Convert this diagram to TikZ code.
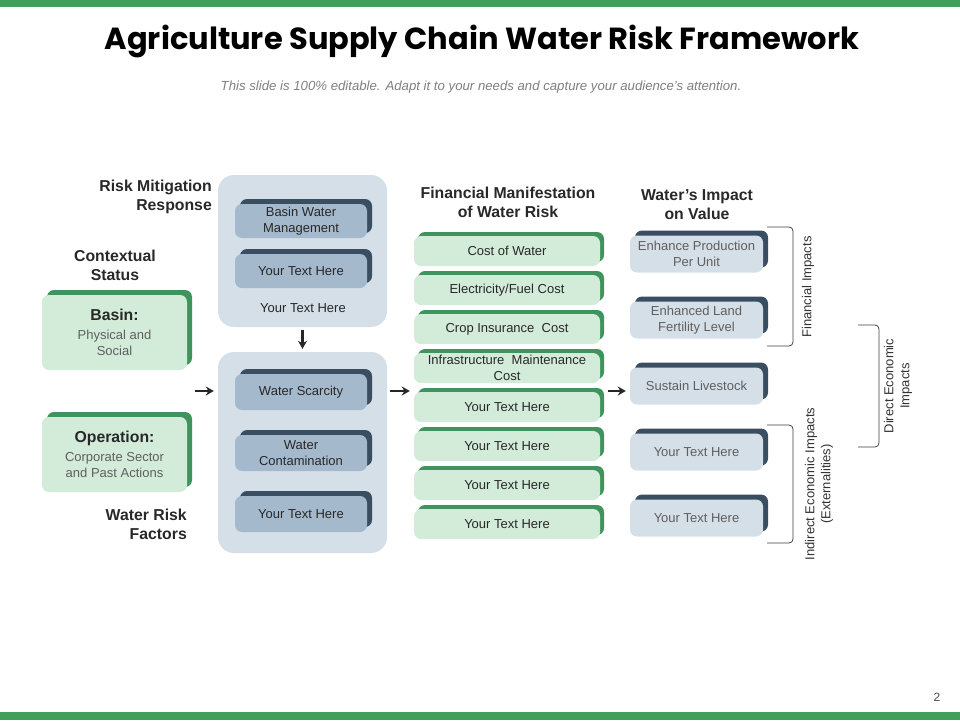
\documentclass[tikz,border=0pt]{standalone}
\usepackage{fontspec}
\setmainfont{Liberation Sans}
\newfontfamily\titlefont{Poppins}
\usepackage{xcolor}
\usetikzlibrary{arrows.meta}

\definecolor{barGreen}{RGB}{64,160,90}
\definecolor{shGreen}{RGB}{62,148,92}
\definecolor{lightGreen}{RGB}{211,236,218}
\definecolor{paleSlate}{RGB}{213,223,232}
\definecolor{midSlate}{RGB}{165,185,205}
\definecolor{darkSlate}{RGB}{58,78,98}
\definecolor{txtGray}{RGB}{95,95,95}
\definecolor{txtDark}{RGB}{40,40,40}

\begin{document}
\begin{tikzpicture}[
  x=1pt, y=-1pt, >=Stealth,
  gbox/.style={rounded corners=7pt, fill=lightGreen, align=center, inner sep=0pt,
    preaction={fill=shGreen, transform canvas={xshift=#1, yshift=#1}},
    font=\fontsize{13}{16}\selectfont, text=txtDark},
  gbox/.default=4pt,
  sbox/.style={rounded corners=7pt, fill=#1, align=center, inner sep=0pt,
    preaction={fill=darkSlate, transform canvas={xshift=5pt, yshift=5pt}},
    font=\fontsize{13}{16}\selectfont},
  cont/.style={rounded corners=16pt, fill=paleSlate, minimum width=169pt},
  hd/.style={font=\fontsize{15.8}{19}\selectfont\bfseries, text=txtDark, align=#1, inner sep=0pt},
  hd/.default=center,
  arr/.style={-{Stealth[length=8pt,width=9pt]}, line width=2.8pt, draw=black!85},
  brk/.style={rounded corners=4pt, draw=black!75, line width=0.8pt},
  side/.style={rotate=90, align=center, font=\fontsize{13}{16}\selectfont, text=black!80},
]
\useasboundingbox (0,0) rectangle (960,720);
\fill[white] (0,0) rectangle (960,720);

%--- BARS AND TITLE ---
\fill[barGreen] (0,0) rectangle (960,7);
\fill[barGreen] (0,712) rectangle (960,720);
\node (title) at (482,41) {\titlefont\bfseries\fontsize{30.5}{36}\selectfont Agriculture Supply Chain Water Risk Framework};
\node[text=black!50, font=\fontsize{13.2}{15}\selectfont\itshape] (sub) at (481,87)
  {This slide is 100\% editable. Adapt it to your needs and capture your audience’s attention.};
\node[text=black!70, font=\fontsize{12}{14}\selectfont] (pg) at (937,697) {2};

%--- LEFT COLUMN ---
\node[hd=right, anchor=east] (rmr) at (212,197) {Risk Mitigation\\Response};
\node[hd] (cs) at (115,265) {Contextual\\Status};
\node[gbox=5pt, minimum width=145pt, minimum height=75pt, text=txtGray] (basin) at (114.5,332.5)
  {\textcolor{txtDark}{\fontsize{15.8}{19}\selectfont\bfseries Basin:}\\[3pt]Physical and\\Social};
\node[gbox=5pt, minimum width=145pt, minimum height=75pt, text=txtGray] (oper) at (114.5,454.5)
  {\textcolor{txtDark}{\fontsize{15.8}{19}\selectfont\bfseries Operation:}\\[3pt]Corporate Sector\\and Past Actions};
\node[hd=right, anchor=east] (wrf) at (187,524) {Water Risk\\Factors};

%--- MITIGATION / RISK FACTORS ---
\node[cont, minimum height=152pt] (upc) at (302.5,251) {};
\node[cont, minimum height=201pt] (lowc) at (302.5,452.5) {};
\node[sbox=midSlate, minimum width=132pt, minimum height=34pt, text=txtDark] (bwm) at (301,221) {Basin Water\\Management};
\node[sbox=midSlate, minimum width=132pt, minimum height=34pt, text=txtDark] (ytu) at (301,271) {Your Text Here};
\node[font=\fontsize{13}{16}\selectfont, text=txtDark] (ytp) at (303,308) {Your Text Here};
\node[sbox=midSlate, minimum width=132pt, minimum height=36pt, text=txtDark] (ws) at (301,392) {Water Scarcity};
\node[sbox=midSlate, minimum width=132pt, minimum height=36pt, text=txtDark] (wc) at (301,453) {Water\\Contamination};
\node[sbox=midSlate, minimum width=132pt, minimum height=36pt, text=txtDark] (ytl) at (301,514) {Your Text Here};

%--- FINANCIAL MANIFESTATION ---
\node[hd] (fmh) at (508,202) {Financial Manifestation\\of Water Risk};
\foreach \t [count=\i] in {Cost of Water, Electricity/Fuel Cost, Crop Insurance\ \ Cost,
    {Infrastructure\ \ Maintenance\\Cost}, Your Text Here, Your Text Here, Your Text Here, Your Text Here}
  \node[gbox, minimum width=186pt, minimum height=30pt] (f\i) at (507,212+39*\i) {\t};

%--- IMPACT ON VALUE ---
\node[hd] (wih) at (697,205) {Water’s Impact\\on Value};
\foreach \t [count=\i] in {{Enhance Production\\Per Unit}, {Enhanced Land\\Fertility Level},
    Sustain Livestock, Your Text Here, Your Text Here}
  \node[sbox=paleSlate, minimum width=133pt, minimum height=37pt, text=txtGray] (v\i) at (696.5,188+66*\i) {\t};

%--- BRACKETS ---
\draw[brk] (767,227) -| (793,346) -- (767,346);
\node[side] (fi) at (808,287) {Financial Impacts};
\draw[brk] (767,425) -| (793,543) -- (767,543);
\node[side] (ii) at (819,484) {Indirect Economic Impacts\\(Externalities)};
\draw[brk] (858,325) -| (879,447) -- (858,447);
\node[side] (di) at (898,386) {Direct Economic\\Impacts};

%--- ARROWS ---
\draw[arr] ([xshift=-23pt]lowc.west |- 0,391) -- ([xshift=-4pt]lowc.west |- 0,391);
\draw[arr] ([yshift=-3pt]upc.south) -- ([yshift=3pt]lowc.north);
\draw[arr] ([xshift=3pt]lowc.east |- 0,391) -- ([xshift=-4pt]f5.west |- 0,391);
\draw[arr] ([xshift=8pt]f5.east |- 0,391) -- ([xshift=-4pt]v3.west |- 0,391);
\end{tikzpicture}
\end{document}
